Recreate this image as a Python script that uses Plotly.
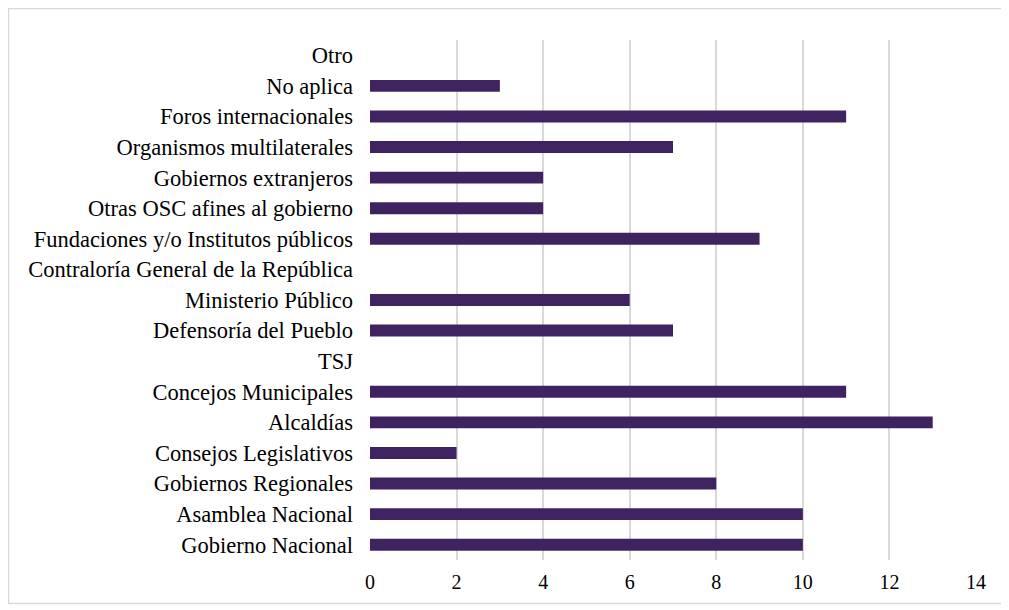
import plotly.graph_objects as go

categories = [
    "Gobierno Nacional", "Asamblea Nacional", "Gobiernos Regionales",
    "Consejos Legislativos", "Alcaldías", "Concejos Municipales", "TSJ",
    "Defensoría del Pueblo", "Ministerio Público",
    "Contraloría General de la República",
    "Fundaciones y/o Institutos públicos", "Otras OSC afines al gobierno",
    "Gobiernos extranjeros", "Organismos multilaterales",
    "Foros internacionales", "No aplica", "Otro",
]
values = [10, 10, 8, 2, 13, 11, 0, 7, 6, 0, 9, 4, 4, 7, 11, 3, 0]
x_ticks = [0, 2, 4, 6, 8, 10, 12, 14]

# page body has an 8px margin; figure sized to fit the remaining viewport
OFF = 8
W, H = 1009 - OFF, 610 - OFF
L, T = 370 - OFF, 40 - OFF
R = W - (976 - OFF)
B = H - (560 - OFF)
pw, ph = W - L - R, H - T - B

fig = go.Figure(go.Bar(
    x=values, y=categories, orientation="h",
    marker=dict(color="#3f2360", line=dict(width=0)),
    hoverinfo="x+y",
))

def px_to_paper_x(px):
    return (px - OFF - L) / pw

def px_to_paper_y(py):
    return (H - B - (py - OFF)) / ph

fig.update_layout(
    width=W, height=H,
    margin=dict(l=L, r=R, t=T, b=B),
    paper_bgcolor="white", plot_bgcolor="white",
    font=dict(family="Liberation Serif, Times New Roman, serif", size=22.5, color="#000000"),
    bargap=0.61,
    showlegend=False,
    xaxis=dict(
        range=[0, 14], tickvals=x_ticks, showgrid=True,
        gridcolor="#d9d9d9", gridwidth=1.5, zeroline=False,
        showline=False, ticks="", ticklabelstandoff=8,
        tickfont=dict(size=20), fixedrange=True,
    ),
    yaxis=dict(
        categoryorder="array", categoryarray=categories,
        showgrid=False, zeroline=False, showline=False, ticks="",
        ticklabelstandoff=16, fixedrange=True,
    ),
    shapes=[
        dict(type="rect", xref="paper", yref="paper",
             x0=px_to_paper_x(8.5), x1=px_to_paper_x(1003.5),
             y0=px_to_paper_y(603.5), y1=px_to_paper_y(8.5),
             line=dict(color="#d9d9d9", width=1.5), fillcolor="rgba(0,0,0,0)",
             layer="below"),
    ],
)

fig.write_html("out.html")
